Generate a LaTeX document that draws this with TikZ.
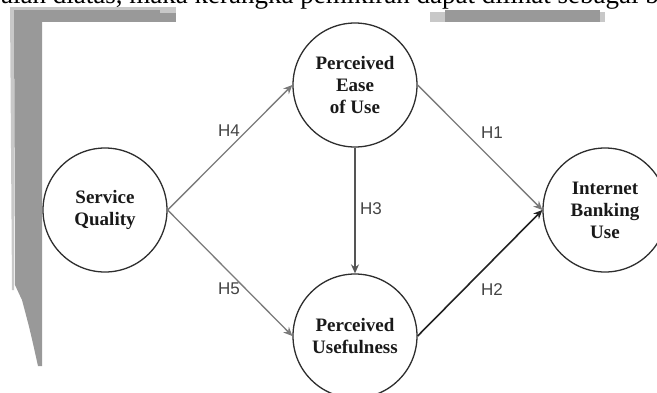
\documentclass[tikz,border=0pt]{standalone}
\usepackage{fontspec}
\setmainfont{Liberation Serif}
\newfontfamily\labfont{Liberation Sans}
\usetikzlibrary{arrows.meta}
\definecolor{barg}{HTML}{999999}
\definecolor{barl}{HTML}{C8C8C8}
\definecolor{circ}{HTML}{2E2E2E}
\definecolor{lgray}{HTML}{7A7A7A}
\definecolor{mgray}{HTML}{555555}
\definecolor{dk}{HTML}{222222}
\definecolor{labc}{HTML}{444444}
\tikzset{
  var/.style={circle, draw=circ, line width=1.3pt, minimum size=124pt, inner sep=0pt,
    align=center, font=\fontsize{19}{22}\selectfont\bfseries, text=black!90},
  hyp/.style={font=\labfont\fontsize{17}{20}\selectfont, text=labc},
  arr/.style={line width=1.3pt, -{Stealth[length=9pt,width=8pt,inset=3pt]}},
}
\begin{document}
\begin{tikzpicture}[x=1pt,y=-1pt]
\useasboundingbox (0,0) rectangle (657,392);
\clip (0,0) rectangle (657,392);
% cropped text line at the top
\node[anchor=base west, inner sep=0pt, font=\fontsize{27}{30}\selectfont] (toptext) at (1,3.5)
  {alah diatas, maka kerangka pemikiran dapat dilihat sebagai berikut};
% grey frame bars
\fill[barl] (10,7) rectangle (176,22);
\fill[barg] (14,10) rectangle (160,22);
\fill[barg] (160,13) rectangle (176,22);
\fill[barl] (10,7) -- (14,7) -- (14,290) -- (12,290) -- cycle;
\fill[barg] (14,10) -- (42,10) -- (42,366) -- (38,366) .. controls (30,330) .. (22,300) -- (15,285) -- cycle;
\fill[barl] (430,12) rectangle (605,22);
\fill[barg] (445,10) rectangle (600,22);
% variables
\node[var] (sq)  at (105,210) {Service\\Quality};
\node[var] (peu) at (355,85)  {Perceived\\Ease\\of Use};
\node[var] (pu)  at (355,336) {Perceived\\Usefulness};
\node[var] (ibu) at (605,210) {Internet\\Banking\\Use};
% connectors
\draw[arr, draw=lgray] (sq.east) -- (peu.west);
\draw[arr, draw=lgray] (sq.east) -- (pu.west);
\draw[arr, draw=lgray] (peu.east) -- (ibu.west);
\draw[arr, draw=mgray] (peu.south) -- (pu.north);
\draw[arr, draw=dk, line width=1.6pt] (pu.east) -- (ibu.west);
% labels
\node[hyp] (h4) at (229,131) {H4};
\node[hyp] (h5) at (229,289) {H5};
\node[hyp] (h3) at (371,209) {H3};
\node[hyp] (h1) at (492,133) {H1};
\node[hyp] (h2) at (492,290) {H2};
\end{tikzpicture}
\end{document}
